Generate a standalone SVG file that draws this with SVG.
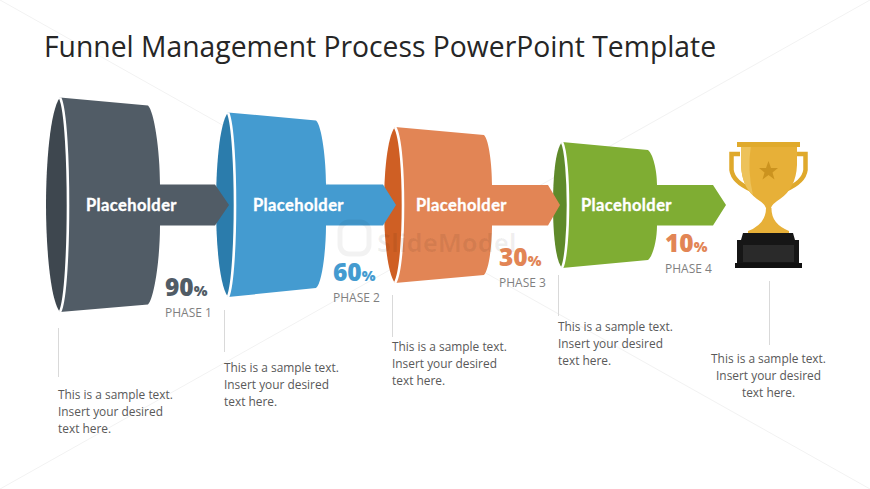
<svg xmlns="http://www.w3.org/2000/svg" width="870" height="489" viewBox="0 0 870 489">
<style>
.t{font-family:"Open Sans","Liberation Sans",sans-serif;font-size:11.9px;fill:#595959}
.ph{font-family:"Open Sans","Liberation Sans",sans-serif;font-size:12px;fill:#7f7f7f}
.lb{font-family:"Lato","Open Sans",sans-serif;font-weight:700;font-size:16.5px;fill:#fff;stroke:#fff;stroke-width:.35;letter-spacing:.4px}
.n{font-family:"Open Sans","Liberation Sans",sans-serif;font-weight:800;font-size:24.5px}
.p{font-size:14.5px}
.ld{stroke:#d9d9d9;stroke-width:1;fill:none}
.rim{fill:none;stroke:#fff;stroke-width:2.6}
</style>
<rect width="870" height="489" fill="#fff"/>
<g id="background" stroke="#f2f2f2" stroke-width="1"><line x1="0" y1="0" x2="870" y2="489"/><line x1="870" y1="0" x2="0" y2="489"/></g>
<text id="title" x="44" y="57" font-family="'Open Sans','Liberation Sans',sans-serif" font-size="28.3px" fill="#262626">Funnel Management Process PowerPoint Template</text>
<g id="connectors">
<line class="ld" x1="58.500" y1="328" x2="58.500" y2="377"/>
<line class="ld" x1="224.500" y1="310" x2="224.500" y2="352"/>
<line class="ld" x1="392.500" y1="295" x2="392.500" y2="337"/>
<line class="ld" x1="558.500" y1="275" x2="558.500" y2="316"/>
<line class="ld" x1="769.500" y1="281" x2="769.500" y2="345"/>
</g>
<g id="funnel4">
<path d="M562 142L648 150C653 154 657 170 657 185H713L726 205L713 225.500H657C657 240 653 256 648 260L562 268Z" fill="#7fad33"/>
<path d="M562 142C555 150 553 180 553 205C553 230 555 260 562 268C566 260 568 230 568 205C568 180 566 150 562 142Z" fill="#5f8a2a"/>
<path class="rim" d="M562 142C566 150 568 180 568 205C568 230 566 260 562 268"/>
</g>
<g id="funnel3">
<path d="M395 127L484 135C489 140 492 165 492 185H548L560 205L548 225.500H492C492 245 489 270 484 275L395 283Z" fill="#e28555"/>
<path d="M395 127C387 137 384 175 384 205C384 235 387 273 395 283C401 273 403 235 403 205C403 175 401 137 395 127Z" fill="#cf5f24"/>
<path class="rim" d="M395 127C401 137 403 175 403 205C403 235 401 273 395 283"/>
</g>
<g id="funnel2">
<path d="M228 112.500L316 120.500C322 126 326 160 326 184.500H383L396 205L383 225.500H326C326 250 322 284 316 288L228 297Z" fill="#449bd0"/>
<path d="M228 112.500C219 124 216 170 216 205C216 240 219 285 228 297C233 285 235 240 235 205C235 170 233 124 228 112.500Z" fill="#2b7cac"/>
<path class="rim" d="M228 112.500C233 124 235 170 235 205C235 240 233 285 228 297"/>
</g>
<g id="funnel1">
<path d="M60 97.500L148 105.500C154 111 160 150 160 184.500H215L229 205L215 225.500H160C160 260 154 299 148 304.500L60 312Z" fill="#515c66"/>
<path d="M60 97.500C50 110 46 165 46 205C46 245 50 300 60 312C66 300 68 245 68 205C68 165 66 110 60 97.500Z" fill="#3e474f"/>
<path class="rim" d="M60 97.500C66 110 68 165 68 205C68 245 66 300 60 312"/>
</g>
<g id="watermark">
<rect x="340" y="222" width="29" height="32" rx="9" fill="none" stroke="#000" stroke-opacity=".05" stroke-width="5"/>
<text x="377" y="252" font-family="'Open Sans',sans-serif" font-weight="700" font-size="25.500px" fill="#000" fill-opacity=".06">SlideModel</text>
</g>
<g id="labels">
<text class="lb" x="86" y="211">Placeholder</text>
<text class="lb" x="253" y="211">Placeholder</text>
<text class="lb" x="416" y="211">Placeholder</text>
<text class="lb" x="581" y="211">Placeholder</text>
</g>
<g id="stats">
<text class="n" x="165" y="296" fill="#515c66">90<tspan class="p">%</tspan></text>
<text class="ph" x="165" y="317">PHASE 1</text>
<text class="n" x="333" y="281" fill="#449bd0">60<tspan class="p">%</tspan></text>
<text class="ph" x="333" y="302">PHASE 2</text>
<text class="n" x="499" y="266" fill="#e28555">30<tspan class="p">%</tspan></text>
<text class="ph" x="499" y="287">PHASE 3</text>
<text class="n" x="665" y="252" fill="#e28555">10<tspan class="p">%</tspan></text>
<text class="ph" x="665" y="273">PHASE 4</text>
</g>
<g id="notes">
<text class="t" x="58" y="399">This is a sample text.<tspan x="58" dy="17.200">Insert your desired</tspan><tspan x="58" dy="17.200">text here.</tspan></text>
<text class="t" x="224" y="372">This is a sample text.<tspan x="224" dy="17.200">Insert your desired</tspan><tspan x="224" dy="17.200">text here.</tspan></text>
<text class="t" x="392" y="351">This is a sample text.<tspan x="392" dy="17.200">Insert your desired</tspan><tspan x="392" dy="17.200">text here.</tspan></text>
<text class="t" x="558" y="331">This is a sample text.<tspan x="558" dy="17.200">Insert your desired</tspan><tspan x="558" dy="17.200">text here.</tspan></text>
<text class="t" text-anchor="middle" x="768.500" y="363">This is a sample text.<tspan x="768.500" dy="17.200">Insert your desired</tspan><tspan x="768.500" dy="17.200">text here.</tspan></text>
</g>
<g id="trophy">
<path d="M740 154H731.500V170Q733 182 752 190" fill="none" stroke="#dfa92c" stroke-width="4.500"/>
<path d="M797 154H805.500V170Q804 182 785 190" fill="none" stroke="#dfa92c" stroke-width="4.500"/>
<path d="M741 145V165Q742 188 757 199Q765 204 766 208H771Q772 204 780 199Q796 188 797 165V145Z" fill="#e7b038"/>
<path d="M741 145H751Q747 170 753 195Q742 186 741 165Z" fill="#edc25a"/>
<rect x="737" y="142" width="63" height="5" fill="#e0aa2c"/>
<path d="M768.500 161L771 168H778L772.500 172.500L774.500 179.500L768.500 175L762.500 179.500L764.500 172.500L759 168H766Z" fill="#cb931f"/>
<path d="M766 208H771.500Q771 224 789 231V233H748V231Q766 224 766 208Z" fill="#e7b038"/>
<path d="M743 233H793L795 240H799V263H737V240H741Z" fill="#161616"/>
<rect x="743" y="245" width="51" height="17" fill="#2a2a2a"/>
<rect x="735" y="263" width="67" height="5" fill="#111"/>
</g>
</svg>
